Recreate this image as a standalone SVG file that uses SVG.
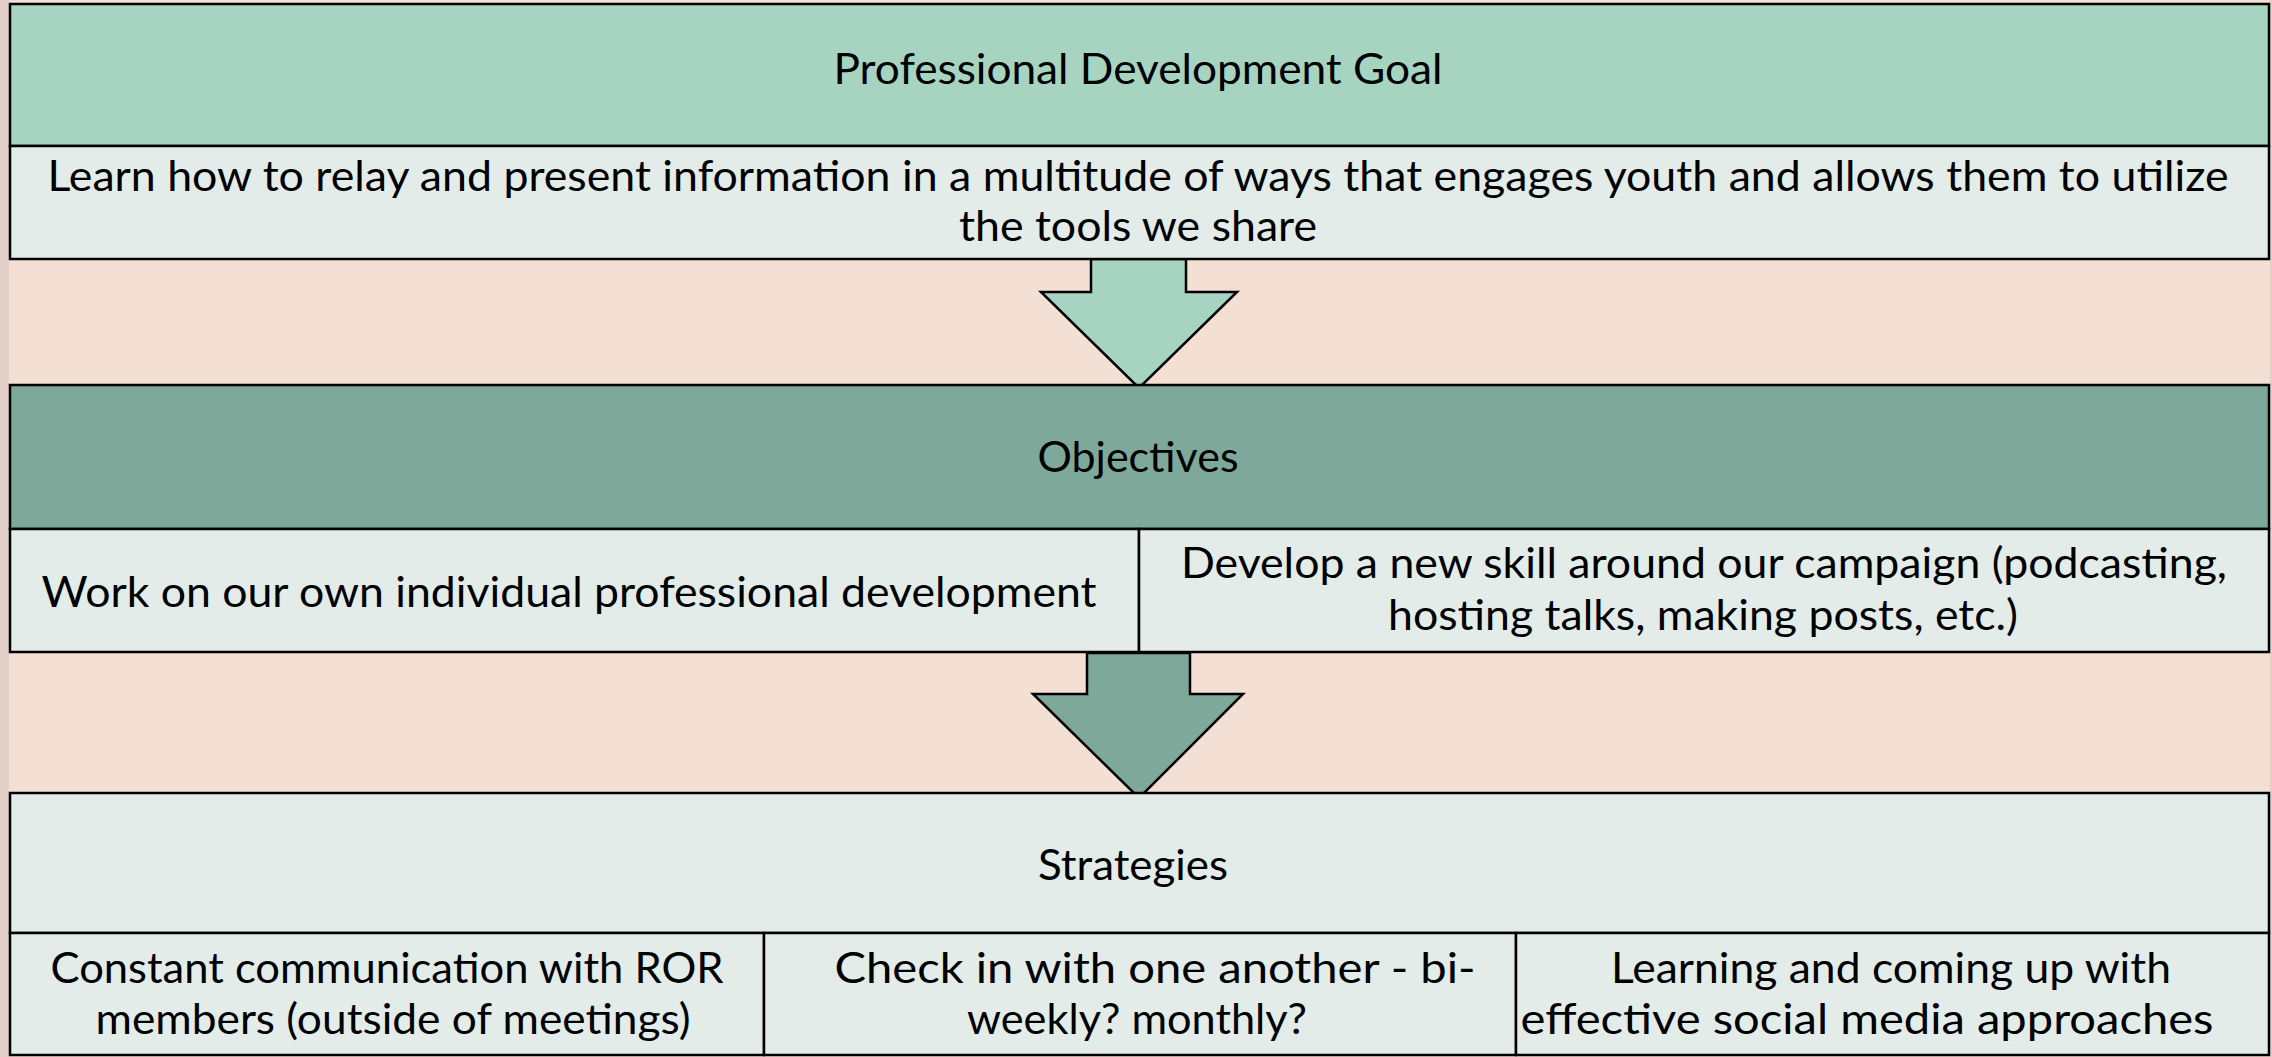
<svg xmlns="http://www.w3.org/2000/svg" width="2272" height="1057" viewBox="0 0 2272 1057">
  <style>
    .bg { fill: #f3dfd4; }
    .edge { fill: #e3d1c9; }
    .box { stroke: #000; stroke-width: 2.5; }
    .goal-head { fill: #a7d4c1; }
    .obj-head { fill: #7ea89a; }
    .cell { fill: #e3ece9; }
    .arrow { stroke: #000; stroke-width: 2.5; stroke-linejoin: miter; }
    text { font-family: Lato, "Open Sans", "Liberation Sans", sans-serif; font-size: 42px; fill: #000; text-anchor: middle; }
  </style>

  <!-- page background -->
  <rect class="bg" x="0" y="0" width="2272" height="1057"/>
  <rect class="edge" x="0" y="0" width="9" height="1057"/>
  <rect class="edge" x="2270" y="0" width="2" height="1057"/>

  <!-- arrows between the tiers -->
  <g id="connectors">
    <polygon id="arrow-goal-objectives" class="arrow goal-head" points="1091,259 1186,259 1186,292 1237,292 1139,388 1041,292 1091,292"/>
    <polygon id="arrow-objectives-strategies" class="arrow obj-head" points="1087,653 1190,653 1190,694 1243,694 1139,798 1033,694 1087,694"/>
  </g>

  <!-- tier 1: goal -->
  <g id="goal">
    <rect class="box goal-head" x="10" y="4" width="2259" height="142"/>
    <rect class="box cell" x="10" y="146" width="2259" height="113"/>
    <text x="1138" y="84" textLength="609" lengthAdjust="spacingAndGlyphs">Professional Development Goal</text>
    <text x="1138" y="191" textLength="2181" lengthAdjust="spacingAndGlyphs">Learn how to relay and present information in a multitude of ways that engages youth and allows them to utilize</text>
    <text x="1138" y="241" textLength="358" lengthAdjust="spacingAndGlyphs">the tools we share</text>
  </g>

  <!-- tier 2: objectives -->
  <g id="objectives">
    <rect class="box obj-head" x="10" y="385" width="2259" height="144"/>
    <rect class="box cell" x="10" y="529" width="1129" height="123"/>
    <rect class="box cell" x="1139" y="529" width="1130" height="123"/>
    <text x="1138" y="472" textLength="201" lengthAdjust="spacingAndGlyphs">Objectives</text>
    <text x="569" y="607" textLength="1055" lengthAdjust="spacingAndGlyphs">Work on our own individual professional development</text>
    <text x="1704" y="578" textLength="1046" lengthAdjust="spacingAndGlyphs">Develop a new skill around our campaign (podcasting,</text>
    <text x="1703" y="630" textLength="630" lengthAdjust="spacingAndGlyphs">hosting talks, making posts, etc.)</text>
  </g>

  <!-- tier 3: strategies -->
  <g id="strategies">
    <rect class="box cell" x="10" y="793" width="2259" height="140"/>
    <rect class="box cell" x="10" y="933" width="754" height="122"/>
    <rect class="box cell" x="764" y="933" width="752" height="122"/>
    <rect class="box cell" x="1516" y="933" width="753" height="122"/>
    <text x="1133" y="880" textLength="190" lengthAdjust="spacingAndGlyphs">Strategies</text>
    <text x="387" y="983" textLength="673" lengthAdjust="spacingAndGlyphs">Constant communication with ROR</text>
    <text x="393" y="1034" textLength="595" lengthAdjust="spacingAndGlyphs">members (outside of meetings)</text>
    <text x="1155" y="983" textLength="641" lengthAdjust="spacingAndGlyphs">Check in with one another - bi-</text>
    <text x="1137" y="1034" textLength="340" lengthAdjust="spacingAndGlyphs">weekly? monthly?</text>
    <text x="1891" y="983" textLength="560" lengthAdjust="spacingAndGlyphs">Learning and coming up with</text>
    <text x="1867" y="1034" textLength="693" lengthAdjust="spacingAndGlyphs">effective social media approaches</text>
  </g>
</svg>
